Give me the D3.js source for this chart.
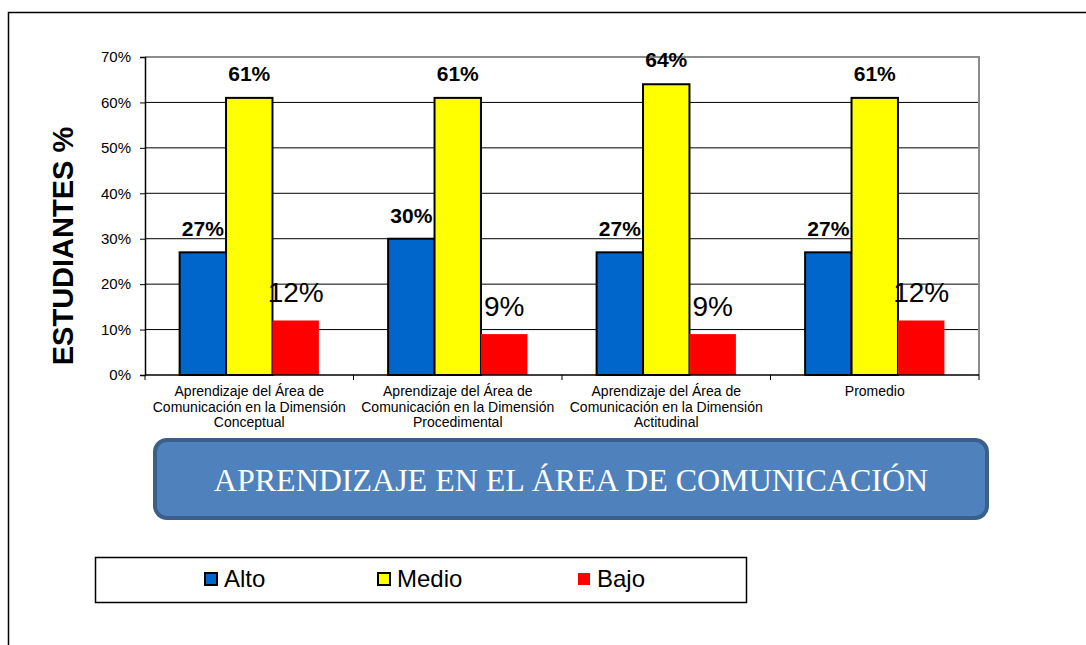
<!DOCTYPE html>
<html>
<head>
<meta charset="utf-8">
<script src="https://cdn.jsdelivr.net/npm/d3@7"></script>
<style>
  body { margin: 0; background: #fff; }
  svg text { font-family: Arial, "Liberation Sans", sans-serif; }
</style>
</head>
<body>
<div id="chart"></div>
<script>
// datos del grafico
var categorias = [
  ["Aprendizaje del Área de", "Comunicación en la Dimensión", "Conceptual"],
  ["Aprendizaje del Área de", "Comunicación en la Dimensión", "Procedimental"],
  ["Aprendizaje del Área de", "Comunicación en la Dimensión", "Actitudinal"],
  ["Promedio"]
];
var series = ["Alto", "Medio", "Bajo"];
var alto  = [27, 30, 27, 27];
var medio = [61, 61, 64, 61];
var bajo  = [12, 9, 9, 12];
var yTicks = [0, 10, 20, 30, 40, 50, 60, 70];
var titulo = "APRENDIZAJE EN EL ÁREA DE COMUNICACIÓN";
var ejeY = "ESTUDIANTES %";

var colores = ["#0066CC", "#FFFF00", "#FF0000"];
var valores = [alto, medio, bajo];

var W = 1086, H = 645;
var margin = {top: 57, left: 145},
    width = 979 - margin.left,
    height = 375 - margin.top;

var svg = d3.select("#chart").append("svg")
    .attr("width", W)
    .attr("height", H);

// marco exterior
svg.append("path")
    .attr("d", "M8.5," + H + " V12.5 H" + W)
    .style("fill", "none")
    .style("stroke", "#000")
    .style("stroke-width", "1.5px");

var g = svg.append("g")
    .attr("transform", "translate(" + margin.left + "," + margin.top + ")");

var x = d3.scaleBand()
    .domain(d3.range(categorias.length))
    .range([0, width]);

var xs = d3.scaleBand()
    .domain(series)
    .range([x.bandwidth() * 0.166, x.bandwidth() * 0.834]);

var y = d3.scaleLinear()
    .domain([0, 70])
    .range([height, 0]);

// lineas de cuadricula
g.append("g")
    .selectAll("line")
    .data(yTicks.filter(function(d){ return d > 0 && d < 70; }))
    .enter().append("line")
    .attr("x1", 0).attr("x2", width)
    .attr("y1", function(d){ return y(d); })
    .attr("y2", function(d){ return y(d); })
    .style("stroke", "#000")
    .style("stroke-width", "1px");

// borde gris arriba y derecha
g.append("path")
    .attr("d", "M0," + y(70) + " H" + width + " V" + height)
    .style("fill", "none")
    .style("stroke", "#8c8c8c")
    .style("stroke-width", "2px");

// barras
series.forEach(function(s, k) {
  g.append("g")
    .selectAll("rect")
    .data(valores[k])
    .enter().append("rect")
    .attr("x", function(d, i){ return x(i) + xs(s); })
    .attr("y", function(d){ return y(d); })
    .attr("width", xs.bandwidth())
    .attr("height", function(d){ return height - y(d); })
    .style("fill", colores[k])
    .style("stroke", k < 2 ? "#000" : "none")
    .style("stroke-width", "2px");
});

// eje Y
var axY = g.append("g")
    .call(d3.axisLeft(y).tickValues(yTicks).tickSize(5).tickFormat(function(d){ return d + "%"; }));
axY.select(".domain").style("stroke", "#000").style("stroke-width", "1.5px");
axY.selectAll("text").style("font-size", "15px").attr("x", -14).style("fill", "#000");

// eje X
var axX = g.append("g")
    .attr("transform", "translate(0," + height + ")");
axX.append("line")
    .attr("x1", 0).attr("x2", width)
    .style("stroke", "#000").style("stroke-width", "1.5px");
axX.selectAll(".tk")
    .data(d3.range(categorias.length + 1))
    .enter().append("line")
    .attr("x1", function(d){ return d * x.step(); })
    .attr("x2", function(d){ return d * x.step(); })
    .attr("y1", 0).attr("y2", 5)
    .style("stroke", "#000");

categorias.forEach(function(lines, i) {
  var t = axX.append("text")
    .attr("text-anchor", "middle")
    .style("font-size", "14px")
    .attr("transform", "translate(" + (x(i) + x.bandwidth() / 2) + ",21)");
  lines.forEach(function(l, j) {
    t.append("tspan").attr("x", 0).attr("dy", j === 0 ? 0 : 15.5).text(l);
  });
});

// etiquetas de datos
var estilos = [
  {size: "21px", weight: "bold", off: 16},
  {size: "21px", weight: "bold", off: 17},
  {size: "28px", weight: "normal", off: 18}
];
series.forEach(function(s, k) {
  g.append("g")
    .selectAll("text")
    .data(valores[k])
    .enter().append("text")
    .attr("x", function(d, i){ return x(i) + xs(s) + xs.bandwidth() / 2; })
    .attr("y", function(d){ return y(d) - estilos[k].off; })
    .attr("text-anchor", "middle")
    .style("font-size", estilos[k].size)
    .style("font-weight", estilos[k].weight)
    .text(function(d){ return d + "%"; });
});

// titulo del eje Y
svg.append("text")
    .attr("transform", "translate(73,246) rotate(-90)")
    .attr("text-anchor", "middle")
    .style("font-size", "29px")
    .style("font-weight", "bold")
    .text(ejeY);

// cartel
svg.append("rect")
    .attr("x", 155).attr("y", 440)
    .attr("width", 832).attr("height", 78)
    .attr("rx", 12)
    .style("fill", "#4F81BD")
    .style("stroke", "#3A5F8B")
    .style("stroke-width", "4px");
svg.append("text")
    .attr("x", 571).attr("y", 491)
    .attr("text-anchor", "middle")
    .style("font-family", "'Liberation Serif', 'Times New Roman', serif")
    .style("font-size", "32px")
    .style("fill", "#fff")
    .text(titulo);

// leyenda
svg.append("rect")
    .attr("x", 95.5).attr("y", 557.5)
    .attr("width", 651).attr("height", 45)
    .style("fill", "#fff")
    .style("stroke", "#000")
    .style("stroke-width", "1.5px");

var legX = [205, 378, 578];
var leg = svg.append("g").selectAll("g")
    .data(series)
    .enter().append("g")
    .attr("transform", function(d, i){ return "translate(" + legX[i] + ",573)"; });
leg.append("rect")
    .attr("width", 12).attr("height", 12)
    .style("fill", function(d, i){ return colores[i]; })
    .style("stroke", function(d, i){ return i < 2 ? "#000" : "none"; })
    .style("stroke-width", "2px");
leg.append("text")
    .attr("x", 19).attr("y", 14)
    .style("font-size", "24px")
    .text(function(d){ return d; });
</script>
</body>
</html>
